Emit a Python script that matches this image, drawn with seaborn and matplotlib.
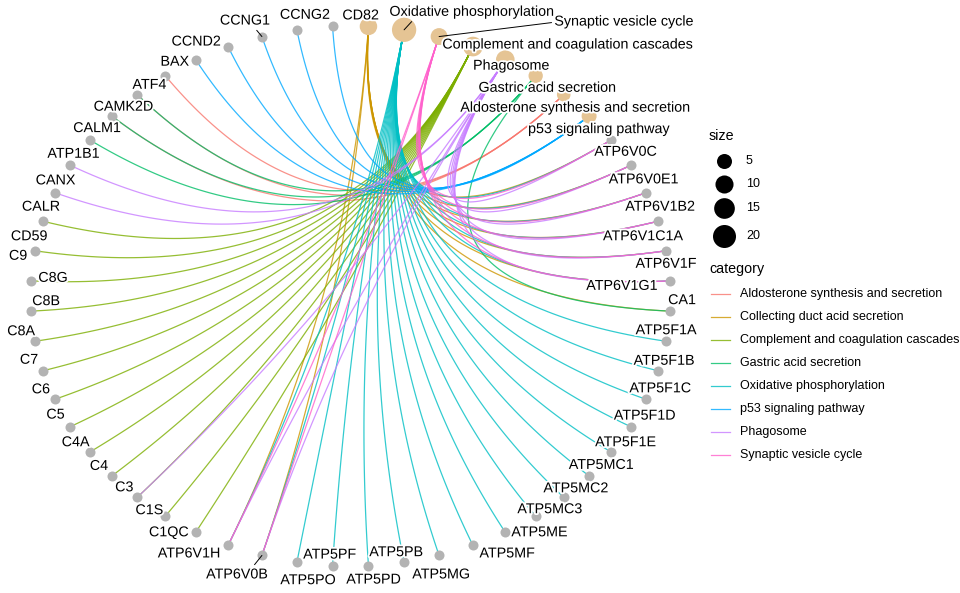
import numpy as np
import matplotlib
matplotlib.use("Agg")
import matplotlib.pyplot as plt
import matplotlib.patheffects as pe
import seaborn as sns
import pandas as pd

# ---------------- data ----------------
categories = ["Aldosterone synthesis and secretion", "Collecting duct acid secretion",
              "Complement and coagulation cascades", "Gastric acid secretion",
              "Oxidative phosphorylation", "p53 signaling pathway", "Phagosome",
              "Synaptic vesicle cycle"]
category_colors = ["#F8766D", "#CD9600", "#7CAE00", "#00BE67", "#00BFC4", "#00A9FF",
                   "#C77CFF", "#FF61CC"]

genes_aldosterone = ["ATF4", "CAMK2D", "CALM1"]
genes_collecting = ["ATP6V0B", "ATP6V0C", "ATP6V0E1", "ATP6V1B2", "ATP6V1C1A", "ATP6V1F",
                    "ATP6V1G1", "ATP6V1H", "CA1"]
genes_complement = ["CD59", "C9", "C8G", "C8B", "C8A", "C7", "C6", "C5", "C4A", "C4", "C3",
                    "C1S", "C1QC"]
genes_gastric = ["CAMK2D", "CALM1", "ATP1B1", "CA1"]
genes_oxphos = ["ATP5F1A", "ATP5F1B", "ATP5F1C", "ATP5F1D", "ATP5F1E", "ATP5MC1", "ATP5MC2",
                "ATP5MC3", "ATP5ME", "ATP5MF", "ATP5MG", "ATP5PB", "ATP5PD", "ATP5PF", "ATP5PO",
                "ATP6V0B", "ATP6V0C", "ATP6V0E1", "ATP6V1B2", "ATP6V1C1A", "ATP6V1F",
                "ATP6V1G1", "ATP6V1H"]
genes_p53 = ["BAX", "CCND2", "CCNG1", "CCNG2", "CD82"]
genes_phagosome = ["CANX", "CALR", "C3", "ATP6V0B", "ATP6V0C", "ATP6V0E1", "ATP6V1B2",
                   "ATP6V1C1A", "ATP6V1F", "ATP6V1G1", "ATP6V1H"]
genes_synaptic = ["ATP6V0B", "ATP6V0C", "ATP6V0E1", "ATP6V1B2", "ATP6V1C1A", "ATP6V1F",
                  "ATP6V1G1", "ATP6V1H"]

gene_sets = {
    "Aldosterone synthesis and secretion": genes_aldosterone,
    "Collecting duct acid secretion": genes_collecting,
    "Complement and coagulation cascades": genes_complement,
    "Gastric acid secretion": genes_gastric,
    "Oxidative phosphorylation": genes_oxphos,
    "p53 signaling pathway": genes_p53,
    "Phagosome": genes_phagosome,
    "Synaptic vesicle cycle": genes_synaptic,
}

# node order around the circle (counter-clockwise from the right)
node_order = ["ATP6V1G1", "ATP6V1F", "ATP6V1C1A", "ATP6V1B2", "ATP6V0E1", "ATP6V0C",
              "p53 signaling pathway", "Aldosterone synthesis and secretion",
              "Gastric acid secretion", "Phagosome", "Complement and coagulation cascades",
              "Synaptic vesicle cycle", "Oxidative phosphorylation",
              "Collecting duct acid secretion",
              "CD82", "CCNG2", "CCNG1", "CCND2", "BAX", "ATF4", "CAMK2D", "CALM1", "ATP1B1",
              "CANX", "CALR", "CD59", "C9", "C8G", "C8B", "C8A", "C7", "C6", "C5", "C4A", "C4",
              "C3", "C1S", "C1QC", "ATP6V1H", "ATP6V0B", "ATP5PO", "ATP5PF", "ATP5PD",
              "ATP5PB", "ATP5MG", "ATP5MF", "ATP5ME", "ATP5MC3", "ATP5MC2", "ATP5MC1",
              "ATP5F1E", "ATP5F1D", "ATP5F1C", "ATP5F1B", "ATP5F1A", "CA1"]

size_breaks = [5, 10, 15, 20]
hidden_labels = ["Collecting duct acid secretion"]

# ---------------- layout / style (not data) ----------------
# label offsets in pixels (screen, y down) relative to the node
label_offsets = {
    "CD82": (28, -11), "CCNG2": (8, -15), "CCNG1": (-17, -16), "CCND2": (-32, -5),
    "BAX": (-21, 2), "ATF4": (-16, 9), "CAMK2D": (-14, 12), "CALM1": (-15, 12),
    "ATP1B1": (-16, 14), "CANX": (-15, 15), "CALR": (-14, 14), "CD59": (-14, 15),
    "C9": (-17, 5), "C8G": (22, -3), "C8B": (15, -10), "C8A": (-14, -10), "C7": (-14, -11),
    "C6": (-14, -10), "C5": (-15, -12), "C4A": (-14, -10), "C4": (-13, -10), "C3": (-13, -10),
    "C1S": (-16, -6), "C1QC": (-27, 0), "ATP6V1H": (-39, 8), "ATP6V0B": (-25, 19),
    "ATP5PO": (11, 18), "ATP5PF": (-3, -11), "ATP5PD": (5, 14), "ATP5PB": (-8, -10),
    "ATP5MG": (2, 19), "ATP5MF": (34, 8), "ATP5ME": (34, 0), "ATP5MC3": (14, -7),
    "ATP5MC2": (12, -9), "ATP5MC1": (12, -11), "ATP5F1E": (14, -10), "ATP5F1D": (14, -11),
    "ATP5F1C": (14, -11), "ATP5F1B": (6, -10), "ATP5F1A": (0, -11), "CA1": (12, -11),
    "ATP6V1G1": (-48, 5), "ATP6V1F": (0, 13), "ATP6V1C1A": (-15, 15), "ATP6V1B2": (14, 14),
    "ATP6V0E1": (13, 14), "ATP6V0C": (14, 12),
    "p53 signaling pathway": (10, 13), "Aldosterone synthesis and secretion": (12, 13),
    "Gastric acid secretion": (12, 12), "Phagosome": (6, 6),
    "Complement and coagulation cascades": (95, -2), "Synaptic vesicle cycle": (185, -15),
    "Oxidative phosphorylation": (68, -18),
}
segments = {"CCNG1": (0.69, 0.0), "ATP6V0B": (0.75, 1.0),
            "Oxidative phosphorylation": (0.15, 0.0), "Synaptic vesicle cycle": (0.0, 0.45)}

FONT = ["Liberation Sans", "DejaVu Sans"]
plt.rcParams["font.family"] = FONT

W, H = 960, 593
fig = plt.figure(figsize=(W / 100, H / 100), dpi=100)
ax = fig.add_axes([30.5 / W, (H - 566) / H, 640 / W, 540 / H])
ax.set_xlim(-1, 1)
ax.set_ylim(-1, 1)
ax.axis("off")

n = len(node_order)
ang = (np.arange(n) + 0.5) * 2 * np.pi / n
pos = {name: (np.cos(a), np.sin(a)) for name, a in zip(node_order, ang)}

def area_pt(v):
    # marker area (pt^2) for gene count v
    return (123.7 + 20.27 * np.asarray(v, dtype=float)) * 0.5184

# edges: quadratic bezier through the circle centre
t = np.linspace(0, 1, 80)[:, None]
for cat, col in zip(categories, category_colors):
    p0 = np.array(pos[cat])
    for g in gene_sets[cat]:
        p2 = np.array(pos[g])
        pts = (1 - t) ** 2 * p0 + t ** 2 * p2
        ax.plot(pts[:, 0], pts[:, 1], color=col, alpha=0.8, lw=0.9, zorder=1,
                solid_capstyle="butt", clip_on=False)

# nodes
genes = [nm for nm in node_order if nm not in gene_sets]
gdf = pd.DataFrame({"x": [pos[g][0] for g in genes], "y": [pos[g][1] for g in genes]})
sns.scatterplot(data=gdf, x="x", y="y", color="#B3B3B3", s=52, linewidth=0, ax=ax,
                zorder=3, clip_on=False, legend=False)
cdf = pd.DataFrame({"x": [pos[c][0] for c in categories], "y": [pos[c][1] for c in categories],
                    "size": [len(gene_sets[c]) for c in categories]})
vmin, vmax = cdf["size"].min(), cdf["size"].max()
sns.scatterplot(data=cdf, x="x", y="y", size="size", sizes=(float(area_pt(vmin)), float(area_pt(vmax))),
                size_norm=(vmin, vmax), color="#E5C494", linewidth=0, ax=ax, zorder=3,
                clip_on=False, legend=False)
ax.set_xlabel("")
ax.set_ylabel("")

# labels
halo = [pe.withStroke(linewidth=2.6, foreground="white")]
for nm in node_order:
    if nm in hidden_labels:
        continue
    dx, dy = label_offsets[nm]
    kw = {}
    if nm in segments:
        kw["arrowprops"] = dict(arrowstyle="-", color="black", lw=0.7, shrinkA=0, shrinkB=0,
                                relpos=segments[nm])
    a = ax.annotate(nm, xy=pos[nm], xytext=(dx * 0.72, -dy * 0.72), textcoords="offset points",
                    ha="center", va="center", fontsize=10.3, color="black", zorder=5,
                    annotation_clip=False, **kw)
    a.set_path_effects(halo)
    if a.arrow_patch is not None:
        a.arrow_patch.set_path_effects([])

# legend (overlay in pixel coordinates)
lax = fig.add_axes([0, 0, 1, 1])
lax.set_xlim(0, W)
lax.set_ylim(H, 0)
lax.axis("off")
lax.patch.set_alpha(0)

lax.text(709, 136, "size", fontsize=10.3, ha="left", va="center")
for yy, b in zip([161, 184, 208, 236], size_breaks):
    lax.scatter([724], [yy], s=area_pt(b), color="black", linewidth=0)
    lax.text(746, yy, str(b), fontsize=9, ha="left", va="center")

lax.text(709, 269, "category", fontsize=10.3, ha="left", va="center")
for i, (cat, col) in enumerate(zip(categories, category_colors)):
    yy = 294 + i * 23.05
    lax.plot([711, 730], [yy, yy], color=col, alpha=0.8, lw=0.9)
    lax.text(740, yy, cat, fontsize=9, ha="left", va="center")

fig.savefig("out.png", dpi=100)
